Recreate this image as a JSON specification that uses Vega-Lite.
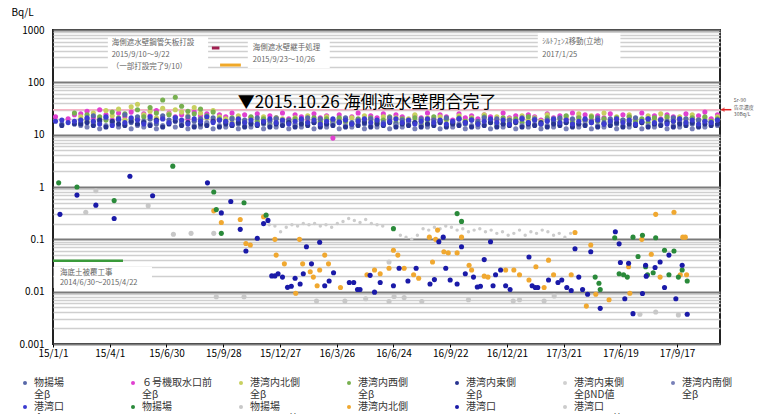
{
"$schema":"https://vega.github.io/schema/vega-lite/v6.json",
"width":667,"height":314,
"autosize":{"type":"none"},
"padding":{"left":53,"top":30,"right":40,"bottom":70},
"background":"white",
"config":{"font":"Noto Sans CJK JP","view":{"stroke":"#222","strokeWidth":2}},
"title":{"text":"港湾内の海水の濃度推移（全β、Sr-90）","fontSize":15,"fontWeight":"normal","color":"#333","offset":7,"anchor":"middle","dx":10},
"encoding":{
 "x":{"field":"d","type":"temporal","scale":{"type":"utc","domain":[{"year":2015,"month":1,"date":1,"utc":true},{"year":2017,"month":11,"date":24,"utc":true}]},
  "axis":{"values":[{"year":2015,"month":1,"date":1,"utc":true},{"year":2015,"month":4,"date":1,"utc":true},{"year":2015,"month":6,"date":30,"utc":true},{"year":2015,"month":9,"date":28,"utc":true},{"year":2015,"month":12,"date":27,"utc":true},{"year":2016,"month":3,"date":26,"utc":true},{"year":2016,"month":6,"date":24,"utc":true},{"year":2016,"month":9,"date":22,"utc":true},{"year":2016,"month":12,"date":21,"utc":true},{"year":2017,"month":3,"date":21,"utc":true},{"year":2017,"month":6,"date":19,"utc":true},{"year":2017,"month":9,"date":17,"utc":true}],
  "labelExpr":"utcFormat(datum.value, '%y/%-m/%-d')","title":null,"grid":false,"domain":false,"ticks":true,"tickColor":"#000","tickSize":3,"labelPadding":1,"labelFontSize":10,"labelColor":"#000","labelFlush":false,"labelOverlap":false}},
 "y":{"field":"v","type":"quantitative","scale":{"type":"log","domain":[0.001,1000],"nice":false},
  "axis":{"values":[0.001,0.002,0.003,0.004,0.005,0.006,0.007,0.008,0.009,0.01,0.02,0.03,0.04,0.05,0.06,0.07,0.08,0.09,0.1,0.2,0.3,0.4,0.5,0.6,0.7,0.8,0.9,1,2,3,4,5,6,7,8,9,10,20,30,40,50,60,70,80,90,100,200,300,400,500,600,700,800,900,1000],
  "format":"~g","labelExpr":"indexof([0.001,0.01,0.1,1,10,100,1000], datum.value) >= 0 ? datum.label : ''",
  "grid":true,"gridColor":{"condition":{"test":"indexof([0.001,0.01,0.1,1,10,100,1000], datum.value) >= 0","value":"#7a7a7a"},"value":"#cfcfcf"},
  "gridWidth":{"condition":{"test":"indexof([0.001,0.01,0.1,1,10,100,1000], datum.value) >= 0","value":2},"value":1.6},
  "ticks":false,"domain":false,"labelFontSize":10,"labelColor":"#000","labelPadding":9,"labelOverlap":false,"labelFlush":false,
  "title":"Bq/L","titleAngle":0,"titleX":-42,"titleY":-18,"titleAlign":"left","titleBaseline":"middle","titleFontSize":10,"titleFontWeight":"normal","titleColor":"#000"}}
},
"layer":[
 {"data":{"values":[
  {"d":"2015-03-29","d2":"2015-09-04","v":735,"v2":157},
  {"d":"2015-11-06","d2":"2016-03-15","v":644,"v2":188},
  {"d":"2017-02-08","d2":"2017-06-19","v":877,"v2":267},
  {"d":"2015-01-02","d2":"2015-06-07","v":0.0296,"v2":0.0117}]},
  "mark":{"type":"rect","fill":"white"},
  "encoding":{"x2":{"field":"d2"},"y2":{"field":"v2"}}},
 {"data":{"values":[{"d":"2015-01-01","d2":"2017-11-24","v":30}]},
  "mark":{"type":"rule","color":"#f6b3c4","strokeWidth":1.5},
  "encoding":{"x2":{"field":"d2"}}},
 {"data":{"values":[{"d":"2015-09-10","d2":"2015-09-22","v":453}]},
  "mark":{"type":"rule","color":"#a02050","strokeWidth":3},
  "encoding":{"x2":{"field":"d2"}}},
 {"data":{"values":[{"d":"2015-09-23","d2":"2015-10-26","v":214}]},
  "mark":{"type":"rule","color":"#f0a828","strokeWidth":3},
  "encoding":{"x2":{"field":"d2"}}},
 {"data":{"values":[{"d":"2015-01-01","d2":"2015-04-22","v":0.039}]},
  "mark":{"type":"rule","color":"#3a9a3a","strokeWidth":2.5},
  "encoding":{"x2":{"field":"d2"}}},
 {"data":{"values":[
  {"d":"2015-01-05","k2":22,"k8":18},
  {"d":"2015-01-15","k1":16,"k8":19,"k5":15},
  {"d":"2015-01-25","k2":20,"k8":17},
  {"d":"2015-02-04","k2":24,"k4":26,"k8":18,"k5":16},
  {"d":"2015-02-14","k2":25,"k3":22,"k4":19,"k1":17,"k7":15,"k5":16,"k8":19},
  {"d":"2015-02-24","k2":28,"k3":18,"k4":24,"k1":20,"k7":14,"k5":17,"k8":21},
  {"d":"2015-03-06","k2":21,"k3":26,"k4":17,"k1":23,"k7":16,"k5":15,"k8":18},
  {"d":"2015-03-16","k2":30,"k3":20,"k4":22,"k1":18,"k7":13,"k5":19,"k8":16},
  {"d":"2015-03-26","k2":24,"k3":29,"k4":19,"k1":21,"k7":15,"k5":14,"k8":22},
  {"d":"2015-04-05","k2":19,"k3":23,"k4":27,"k1":16,"k7":17,"k5":18,"k8":15},
  {"d":"2015-04-15","k2":26,"k3":31,"k4":21,"k1":19,"k7":14,"k5":16,"k8":20},
  {"d":"2015-04-25","k2":22,"k3":19,"k4":25,"k1":24,"k7":16,"k5":15,"k8":17},
  {"d":"2015-05-05","k2":27,"k3":34,"k4":20,"k1":17,"k7":13,"k5":18,"k8":21},
  {"d":"2015-05-15","k2":20,"k3":38,"k4":30,"k1":22,"k7":15,"k5":16,"k8":19},
  {"d":"2015-05-25","k2":25,"k3":24,"k4":22,"k1":18,"k7":14,"k5":17,"k8":16},
  {"d":"2015-06-04","k2":23,"k3":28,"k4":33,"k1":20,"k7":16,"k5":15,"k8":22},
  {"d":"2015-06-14","k2":29,"k3":21,"k4":26,"k1":16,"k7":13,"k5":19,"k8":18},
  {"d":"2015-06-24","k2":21,"k3":32,"k4":46,"k1":23,"k7":15,"k5":14,"k8":20},
  {"d":"2015-07-04","k2":26,"k3":25,"k4":24,"k1":19,"k7":17,"k5":16,"k8":17},
  {"d":"2015-07-14","k2":22,"k3":30,"k4":52,"k1":21,"k7":14,"k5":18,"k8":21},
  {"d":"2015-07-24","k2":24,"k3":27,"k4":35,"k1":17,"k7":16,"k5":15,"k8":19},
  {"d":"2015-08-03","k2":20,"k3":23,"k4":28,"k1":22,"k7":13,"k5":17,"k8":16},
  {"d":"2015-08-13","k2":27,"k3":33,"k4":25,"k1":18,"k7":15,"k5":14,"k8":20},
  {"d":"2015-08-23","k2":23,"k3":26,"k4":31,"k1":20,"k7":14,"k5":16,"k8":18},
  {"d":"2015-09-02","k2":25,"k3":21,"k4":23,"k1":16,"k7":17,"k5":15,"k8":22},
  {"d":"2015-09-12","k2":19,"k3":29,"k4":27,"k1":21,"k7":13,"k5":18,"k8":17},
  {"d":"2015-09-22","k2":24,"k3":22,"k4":20,"k1":19,"k7":15,"k5":14,"k8":19},
  {"d":"2015-10-02","k2":22,"k3":20,"k4":18,"k1":17,"k7":14,"k5":16,"k8":18},
  {"d":"2015-10-12","k2":26,"k3":17,"k4":21,"k1":20,"k7":15,"k5":15,"k8":16},
  {"d":"2015-10-22","k2":20,"k3":23,"k4":19,"k1":16,"k7":13,"k5":17,"k8":20},
  {"d":"2015-11-01","k2":24,"k3":18,"k4":17,"k1":19,"k7":15,"k5":14,"k8":17},
  {"d":"2015-11-11","k2":21,"k3":21,"k4":22,"k1":17,"k7":14,"k5":16,"k8":19},
  {"d":"2015-11-21","k2":25,"k3":16,"k4":18,"k1":21,"k7":16,"k5":15,"k8":16},
  {"d":"2015-12-01","k2":19,"k3":22,"k4":20,"k1":16,"k7":13,"k5":17,"k8":18},
  {"d":"2015-12-11","k2":23,"k3":19,"k4":16,"k1":18,"k7":15,"k5":14,"k8":20},
  {"d":"2015-12-21","k2":21,"k3":17,"k4":21,"k1":20,"k7":14,"k5":16,"k8":17},
  {"d":"2015-12-31","k2":26,"k3":20,"k4":18,"k1":17,"k7":16,"k5":15,"k8":19},
  {"d":"2016-01-10","k2":20,"k3":18,"k4":17,"k1":19,"k7":13,"k5":17,"k8":16},
  {"d":"2016-01-20","k2":24,"k3":21,"k4":20,"k1":16,"k7":15,"k5":14,"k8":18},
  {"d":"2016-01-30","k2":22,"k3":16,"k4":19,"k1":18,"k7":14,"k5":16,"k8":20},
  {"d":"2016-02-09","k2":19,"k3":23,"k4":17,"k1":21,"k7":16,"k5":15,"k8":17},
  {"d":"2016-02-19","k2":25,"k3":19,"k4":21,"k1":17,"k7":13,"k5":17,"k8":19},
  {"d":"2016-02-29","k2":21,"k3":17,"k4":18,"k1":20,"k7":15,"k5":14,"k8":16},
  {"d":"2016-03-10","k2":23,"k3":22,"k4":20,"k1":16,"k7":14,"k5":16,"k8":18},
  {"d":"2016-03-20","k2":8.6,"k3":18,"k4":17,"k1":19,"k7":16,"k5":15,"k8":20},
  {"d":"2016-03-30","k2":24,"k3":20,"k4":21,"k1":18,"k7":13,"k5":17,"k8":17},
  {"d":"2016-04-09","k2":20,"k3":17,"k4":18,"k1":21,"k7":15,"k5":14,"k8":19},
  {"d":"2016-04-19","k2":22,"k3":21,"k4":16,"k1":17,"k7":14,"k5":16,"k8":16},
  {"d":"2016-04-29","k2":26,"k3":18,"k4":20,"k1":19,"k7":16,"k5":15,"k8":18},
  {"d":"2016-05-09","k2":19,"k3":23,"k4":18,"k1":16,"k7":13,"k5":17,"k8":20},
  {"d":"2016-05-19","k2":23,"k3":19,"k4":21,"k1":20,"k7":15,"k5":14,"k8":17},
  {"d":"2016-05-29","k2":21,"k3":16,"k4":17,"k1":18,"k7":14,"k5":16,"k8":19},
  {"d":"2016-06-08","k2":25,"k3":22,"k4":19,"k1":17,"k7":16,"k5":15,"k8":16},
  {"d":"2016-06-18","k2":20,"k3":18,"k4":22,"k1":21,"k7":13,"k5":17,"k8":18},
  {"d":"2016-06-28","k2":24,"k3":21,"k4":17,"k1":16,"k7":15,"k5":14,"k8":20},
  {"d":"2016-07-08","k2":22,"k3":17,"k4":20,"k1":19,"k7":14,"k5":16,"k8":17},
  {"d":"2016-07-18","k2":19,"k3":20,"k4":18,"k1":18,"k7":16,"k5":15,"k8":19},
  {"d":"2016-07-28","k2":23,"k3":24,"k4":21,"k1":17,"k7":13,"k5":17,"k8":16},
  {"d":"2016-08-07","k2":21,"k3":18,"k4":16,"k1":20,"k7":15,"k5":14,"k8":18},
  {"d":"2016-08-17","k2":26,"k3":21,"k4":19,"k1":16,"k7":14,"k5":16,"k8":20},
  {"d":"2016-08-27","k2":20,"k3":17,"k4":22,"k1":19,"k7":16,"k5":15,"k8":17},
  {"d":"2016-09-06","k2":24,"k3":22,"k4":18,"k1":18,"k7":13,"k5":17,"k8":19},
  {"d":"2016-09-16","k2":22,"k3":19,"k4":20,"k1":21,"k7":15,"k5":14,"k8":16},
  {"d":"2016-09-26","k2":19,"k3":16,"k4":17,"k1":17,"k7":14,"k5":16,"k8":18},
  {"d":"2016-10-06","k2":25,"k3":23,"k4":21,"k1":20,"k7":16,"k5":15,"k8":20},
  {"d":"2016-10-16","k2":21,"k3":18,"k4":18,"k1":16,"k7":13,"k5":17,"k8":17},
  {"d":"2016-10-26","k2":23,"k3":21,"k4":20,"k1":19,"k7":15,"k5":14,"k8":19},
  {"d":"2016-11-05","k2":20,"k3":17,"k4":17,"k1":18,"k7":14,"k5":16,"k8":16},
  {"d":"2016-11-15","k2":24,"k3":24,"k4":22,"k1":21,"k7":16,"k5":15,"k8":18},
  {"d":"2016-11-25","k2":22,"k3":19,"k4":19,"k1":17,"k7":13,"k5":17,"k8":20},
  {"d":"2016-12-05","k2":19,"k3":22,"k4":16,"k1":20,"k7":15,"k5":14,"k8":17},
  {"d":"2016-12-15","k2":26,"k3":18,"k4":21,"k1":16,"k7":14,"k5":16,"k8":19},
  {"d":"2016-12-25","k2":21,"k3":20,"k4":18,"k1":19,"k7":16,"k5":15,"k8":16},
  {"d":"2017-01-04","k2":23,"k3":17,"k4":20,"k1":18,"k7":13,"k5":17,"k8":18},
  {"d":"2017-01-14","k2":20,"k3":23,"k4":17,"k1":21,"k7":15,"k5":14,"k8":20},
  {"d":"2017-01-24","k2":24,"k3":19,"k4":22,"k1":17,"k7":14,"k5":16,"k8":17},
  {"d":"2017-02-03","k2":22,"k3":21,"k4":19,"k1":20,"k7":16,"k5":15,"k8":19},
  {"d":"2017-02-13","k2":19,"k3":18,"k4":16,"k1":16,"k7":13,"k5":17,"k8":16},
  {"d":"2017-02-23","k2":25,"k3":24,"k4":21,"k1":19,"k7":15,"k5":14,"k8":18},
  {"d":"2017-03-05","k2":21,"k3":20,"k4":18,"k1":18,"k7":14,"k5":16,"k8":20},
  {"d":"2017-03-15","k2":23,"k3":17,"k4":20,"k1":21,"k7":16,"k5":15,"k8":17},
  {"d":"2017-03-25","k2":20,"k3":22,"k4":23,"k1":17,"k7":13,"k5":17,"k8":19},
  {"d":"2017-04-04","k2":26,"k3":19,"k4":17,"k1":20,"k7":15,"k5":14,"k8":16},
  {"d":"2017-04-14","k2":22,"k3":25,"k4":21,"k1":16,"k7":14,"k5":16,"k8":18},
  {"d":"2017-04-24","k2":24,"k3":18,"k4":19,"k1":19,"k7":16,"k5":15,"k8":20},
  {"d":"2017-05-04","k2":19,"k3":23,"k4":22,"k1":18,"k7":13,"k5":17,"k8":17},
  {"d":"2017-05-14","k2":23,"k3":20,"k4":18,"k1":21,"k7":15,"k5":14,"k8":19},
  {"d":"2017-05-24","k2":21,"k3":26,"k4":20,"k1":17,"k7":14,"k5":16,"k8":16},
  {"d":"2017-06-03","k2":25,"k3":19,"k4":17,"k1":20,"k7":16,"k5":15,"k8":18},
  {"d":"2017-06-13","k2":20,"k3":22,"k4":21,"k1":16,"k7":13,"k5":17,"k8":20},
  {"d":"2017-06-23","k2":24,"k3":18,"k4":19,"k1":19,"k7":15,"k5":14,"k8":17},
  {"d":"2017-07-03","k2":22,"k3":24,"k4":22,"k1":18,"k7":14,"k5":16,"k8":19},
  {"d":"2017-07-13","k2":19,"k3":20,"k4":18,"k1":21,"k7":16,"k5":15,"k8":16},
  {"d":"2017-07-23","k2":26,"k3":17,"k4":20,"k1":17,"k7":13,"k5":17,"k8":18},
  {"d":"2017-08-02","k2":21,"k3":23,"k4":17,"k1":20,"k7":15,"k5":14,"k8":20},
  {"d":"2017-08-12","k2":23,"k3":19,"k4":21,"k1":16,"k7":14,"k5":16,"k8":17},
  {"d":"2017-08-22","k2":20,"k3":25,"k4":19,"k1":19,"k7":16,"k5":15,"k8":19},
  {"d":"2017-09-01","k2":24,"k3":21,"k4":22,"k1":18,"k7":13,"k5":17,"k8":16},
  {"d":"2017-09-11","k2":22,"k3":18,"k4":18,"k1":21,"k7":15,"k5":14,"k8":18},
  {"d":"2017-09-21","k2":19,"k3":22,"k4":20,"k1":17,"k7":14,"k5":16,"k8":20},
  {"d":"2017-10-01","k2":25,"k3":20,"k4":17,"k1":20,"k7":16,"k5":15,"k8":17},
  {"d":"2017-10-11","k2":21,"k3":24,"k4":21,"k1":16,"k7":13,"k5":17,"k8":19},
  {"d":"2017-10-21","k2":23,"k3":19,"k4":19,"k1":19,"k7":15,"k5":14,"k8":16},
  {"d":"2017-10-31","k2":27,"k3":21,"k4":22,"k1":18,"k7":14,"k5":16,"k8":18},
  {"d":"2017-11-10","k2":20,"k3":18,"k4":18,"k1":17,"k7":16,"k5":15,"k8":17},
  {"d":"2017-11-20","k2":24,"k3":22,"k4":20,"k1":19,"k7":15,"k5":16,"k8":19}]},
  "transform":[{"fold":["k2","k3","k4","k1","k7","k5","k8"],"as":["s","v"]},{"filter":"isValid(datum.v)"}],
  "mark":{"type":"circle","size":26,"opacity":1},
  "encoding":{"color":{"field":"s","type":"nominal",
   "scale":{"domain":["k1","k2","k3","k4","k5","k6","k7","k8","k9","k10","k11","k12","k13"],"range":["#5868a8","#e040d0","#c8d060","#78b050","#283490","#d0d0d0","#7880b8","#3c3cd0","#2a8a3a","#c8c8c8","#f0a830","#1a1aa8","#cccccc"]},
   "legend":{"orient":"none","legendX":-33,"legendY":348,"direction":"horizontal","columns":7,"title":null,"gridAlign":"all","columnPadding":24,"rowPadding":2,"padding":0,"symbolType":"circle","symbolSize":16,"labelFontSize":10,"labelColor":"#333","labelLimit":200,"labelBaseline":"middle",
    "labelExpr":"datum.value=='k1'?['物揚場','全β']:datum.value=='k2'?['６号機取水口前','全β']:datum.value=='k3'?['港湾内北側','全β']:datum.value=='k4'?['港湾内西側','全β']:datum.value=='k5'?['港湾内東側','全β']:datum.value=='k6'?['港湾内東側','全βND値']:datum.value=='k7'?['港湾内南側','全β']:datum.value=='k8'?['港湾口','全β']:datum.value=='k9'?['物揚場','Sr-90']:datum.value=='k10'?['物揚場','Sr-90ND値']:datum.value=='k11'?['港湾内北側','Sr-90']:datum.value=='k12'?['港湾口','Sr-90']:['港湾口','Sr-90ND値']",
    "encode":{"labels":{"update":{"lineHeight":{"value":13}}}}}}}},
 {"data":{"values":[
  {"d":"2015-12-10","v":0.19},{"d":"2015-12-19","v":0.18},{"d":"2015-12-28","v":0.14},{"d":"2016-01-06","v":0.17},{"d":"2016-01-15","v":0.19},{"d":"2016-01-24","v":0.18},{"d":"2016-02-02","v":0.2},{"d":"2016-02-11","v":0.19},{"d":"2016-02-20","v":0.2},{"d":"2016-02-29","v":0.18},{"d":"2016-03-09","v":0.19},{"d":"2016-03-18","v":0.17},{"d":"2016-03-27","v":0.2},{"d":"2016-04-05","v":0.22},{"d":"2016-04-14","v":0.25},{"d":"2016-04-23","v":0.23},{"d":"2016-05-02","v":0.21},{"d":"2016-05-11","v":0.24},{"d":"2016-05-20","v":0.2},{"d":"2016-05-29","v":0.19},{"d":"2016-06-07","v":0.18},
  {"d":"2016-07-05","v":0.12},{"d":"2016-07-14","v":0.11},{"d":"2016-07-23","v":0.1},{"d":"2016-08-01","v":0.12},{"d":"2016-08-10","v":0.16},{"d":"2016-08-19","v":0.15},{"d":"2016-08-28","v":0.17},{"d":"2016-09-06","v":0.16},{"d":"2016-09-15","v":0.18},{"d":"2016-09-24","v":0.17},{"d":"2016-10-03","v":0.15},{"d":"2016-10-12","v":0.16},{"d":"2016-10-21","v":0.14},{"d":"2016-10-30","v":0.15},{"d":"2016-11-08","v":0.16},{"d":"2016-11-17","v":0.14},{"d":"2016-11-26","v":0.15},{"d":"2016-12-05","v":0.13},{"d":"2016-12-14","v":0.14},{"d":"2016-12-23","v":0.12},{"d":"2017-01-01","v":0.13},{"d":"2017-01-10","v":0.15},{"d":"2017-01-19","v":0.12},{"d":"2017-01-28","v":0.14},{"d":"2017-02-06","v":0.13},{"d":"2017-02-15","v":0.15},{"d":"2017-02-24","v":0.14},{"d":"2017-03-05","v":0.12},{"d":"2017-03-14","v":0.13},{"d":"2017-03-23","v":0.11},{"d":"2017-04-01","v":0.13}]},
  "mark":{"type":"circle","size":12,"opacity":1},
  "encoding":{"color":{"datum":"k13","type":"nominal",
   "scale":{"domain":["k1","k2","k3","k4","k5","k6","k7","k8","k9","k10","k11","k12","k13"],"range":["#5868a8","#e040d0","#c8d060","#78b050","#283490","#d0d0d0","#7880b8","#3c3cd0","#2a8a3a","#c8c8c8","#f0a830","#1a1aa8","#cccccc"]}}}},
 {"data":{"values":[
  {"d":"2015-02-22","v":0.33,"s":"k10"},{"d":"2015-03-10","v":0.85,"s":"k10"},{"d":"2015-06-01","v":0.44,"s":"k10"},{"d":"2015-07-11","v":0.125,"s":"k10"},{"d":"2015-08-08","v":0.13,"s":"k10"},{"d":"2015-09-13","v":0.13,"s":"k10"},{"d":"2015-09-17","v":0.008,"s":"k10"},{"d":"2015-10-31","v":0.008,"s":"k10"},{"d":"2016-02-23","v":0.0066,"s":"k10"},{"d":"2016-04-08","v":0.0066,"s":"k10"},{"d":"2016-05-11","v":0.0073,"s":"k10"},{"d":"2016-06-17","v":0.0065,"s":"k10"},{"d":"2016-06-17","v":0.037,"s":"k10"},{"d":"2016-06-25","v":0.0081,"s":"k10"},{"d":"2016-07-11","v":0.0077,"s":"k10"},{"d":"2016-08-08","v":0.0065,"s":"k10"},{"d":"2016-10-21","v":0.007,"s":"k10"},{"d":"2016-12-31","v":0.0066,"s":"k10"},{"d":"2017-01-10","v":0.007,"s":"k10"},{"d":"2017-02-18","v":0.0066,"s":"k10"},{"d":"2017-03-06","v":0.0083,"s":"k10"},{"d":"2017-07-20","v":0.0037,"s":"k10"},{"d":"2017-08-14","v":0.0041,"s":"k10"},{"d":"2017-09-19","v":0.0036,"s":"k10"},
  {"d":"2015-09-13","v":0.35,"s":"k11"},{"d":"2015-09-25","v":0.21,"s":"k11"},{"d":"2015-10-25","v":0.24,"s":"k11"},{"d":"2015-11-03","v":0.083,"s":"k11"},{"d":"2015-11-10","v":0.078,"s":"k11"},{"d":"2015-12-01","v":0.27,"s":"k11"},{"d":"2015-12-19","v":0.1,"s":"k11"},{"d":"2015-12-21","v":0.05,"s":"k11"},{"d":"2016-01-03","v":0.034,"s":"k11"},{"d":"2016-01-21","v":0.0093,"s":"k11"},{"d":"2016-01-27","v":0.1,"s":"k11"},{"d":"2016-02-01","v":0.034,"s":"k11"},{"d":"2016-02-13","v":0.024,"s":"k11"},{"d":"2016-02-18","v":0.019,"s":"k11"},{"d":"2016-02-24","v":0.013,"s":"k11"},{"d":"2016-02-28","v":0.026,"s":"k11"},{"d":"2016-03-07","v":0.05,"s":"k11"},{"d":"2016-03-13","v":0.034,"s":"k11"},{"d":"2016-04-01","v":0.012,"s":"k11"},{"d":"2016-05-13","v":0.021,"s":"k11"},{"d":"2016-05-25","v":0.026,"s":"k11"},{"d":"2016-06-03","v":0.022,"s":"k11"},{"d":"2016-06-17","v":0.028,"s":"k11"},{"d":"2016-06-24","v":0.062,"s":"k11"},{"d":"2016-07-01","v":0.05,"s":"k11"},{"d":"2016-07-11","v":0.028,"s":"k11"},{"d":"2016-07-26","v":0.021,"s":"k11"},{"d":"2016-08-03","v":0.018,"s":"k11"},{"d":"2016-08-20","v":0.11,"s":"k11"},{"d":"2016-08-25","v":0.037,"s":"k11"},{"d":"2016-08-30","v":0.1,"s":"k11"},{"d":"2016-09-02","v":0.15,"s":"k11"},{"d":"2016-09-12","v":0.058,"s":"k11"},{"d":"2016-09-19","v":0.055,"s":"k11"},{"d":"2016-10-03","v":0.055,"s":"k11"},{"d":"2016-10-10","v":0.11,"s":"k11"},{"d":"2016-10-22","v":0.032,"s":"k11"},{"d":"2016-10-26","v":0.026,"s":"k11"},{"d":"2016-11-15","v":0.0198,"s":"k11"},{"d":"2016-11-21","v":0.019,"s":"k11"},{"d":"2016-12-19","v":0.026,"s":"k11"},{"d":"2017-01-01","v":0.026,"s":"k11"},{"d":"2017-01-10","v":0.021,"s":"k11"},{"d":"2017-01-25","v":0.0167,"s":"k11"},{"d":"2017-02-05","v":0.03,"s":"k11"},{"d":"2017-02-18","v":0.012,"s":"k11"},{"d":"2017-02-25","v":0.04,"s":"k11"},{"d":"2017-03-05","v":0.021,"s":"k11"},{"d":"2017-04-02","v":0.021,"s":"k11"},{"d":"2017-04-08","v":0.135,"s":"k11"},{"d":"2017-04-26","v":0.0053,"s":"k11"},{"d":"2017-05-03","v":0.078,"s":"k11"},{"d":"2017-05-11","v":0.0089,"s":"k11"},{"d":"2017-06-01","v":0.007,"s":"k11"},{"d":"2017-07-02","v":0.03,"s":"k11"},{"d":"2017-07-04","v":0.0093,"s":"k11"},{"d":"2017-07-23","v":0.1,"s":"k11"},{"d":"2017-08-07","v":0.052,"s":"k11"},{"d":"2017-08-14","v":0.3,"s":"k11"},{"d":"2017-08-21","v":0.019,"s":"k11"},{"d":"2017-09-12","v":0.33,"s":"k11"},{"d":"2017-09-22","v":0.021,"s":"k11"},{"d":"2017-09-26","v":0.11,"s":"k11"},{"d":"2017-09-30","v":0.11,"s":"k11"},{"d":"2017-10-02","v":0.021,"s":"k11"},
  {"d":"2015-01-10","v":1.2,"s":"k9"},{"d":"2015-02-08","v":1.0,"s":"k9"},{"d":"2015-04-08","v":0.55,"s":"k9"},{"d":"2015-07-10","v":2.5,"s":"k9"},{"d":"2015-09-13","v":0.8,"s":"k9"},{"d":"2015-09-17","v":0.37,"s":"k9"},{"d":"2015-09-25","v":0.13,"s":"k9"},{"d":"2015-10-31","v":0.5,"s":"k9"},{"d":"2015-12-05","v":0.29,"s":"k9"},{"d":"2016-06-24","v":0.16,"s":"k9"},{"d":"2016-10-03","v":0.31,"s":"k9"},{"d":"2016-10-10","v":0.22,"s":"k9"},{"d":"2017-05-10","v":0.019,"s":"k9"},{"d":"2017-05-16","v":0.0145,"s":"k9"},{"d":"2017-05-18","v":0.011,"s":"k9"},{"d":"2017-06-10","v":0.107,"s":"k9"},{"d":"2017-06-17","v":0.022,"s":"k9"},{"d":"2017-06-24","v":0.021,"s":"k9"},{"d":"2017-06-30","v":0.019,"s":"k9"},{"d":"2017-07-09","v":0.11,"s":"k9"},{"d":"2017-07-24","v":0.12,"s":"k9"},{"d":"2017-08-14","v":0.107,"s":"k9"},{"d":"2017-07-17","v":0.047,"s":"k9"},{"d":"2017-08-28","v":0.062,"s":"k9"},{"d":"2017-09-12","v":0.06,"s":"k9"},{"d":"2017-07-29","v":0.03,"s":"k9"},{"d":"2017-08-01","v":0.021,"s":"k9"},{"d":"2017-08-10","v":0.023,"s":"k9"},{"d":"2017-09-04","v":0.021,"s":"k9"},{"d":"2017-09-19","v":0.019,"s":"k9"},{"d":"2017-09-25","v":0.026,"s":"k9"},{"d":"2017-10-03","v":0.016,"s":"k9"},
  {"d":"2015-01-12","v":0.3,"s":"k12"},{"d":"2015-02-08","v":0.7,"s":"k12"},{"d":"2015-03-10","v":0.45,"s":"k12"},{"d":"2015-04-08","v":0.25,"s":"k12"},{"d":"2015-05-03","v":1.6,"s":"k12"},{"d":"2015-06-08","v":0.68,"s":"k12"},{"d":"2015-09-03","v":1.2,"s":"k12"},{"d":"2015-09-25","v":0.32,"s":"k12"},{"d":"2015-10-10","v":0.53,"s":"k12"},{"d":"2015-10-25","v":0.155,"s":"k12"},{"d":"2015-11-03","v":0.06,"s":"k12"},{"d":"2015-11-21","v":0.105,"s":"k12"},{"d":"2015-12-01","v":0.2,"s":"k12"},{"d":"2015-12-08","v":0.23,"s":"k12"},{"d":"2015-12-14","v":0.02,"s":"k12"},{"d":"2015-12-19","v":0.02,"s":"k12"},{"d":"2015-12-24","v":0.022,"s":"k12"},{"d":"2015-12-31","v":0.019,"s":"k12"},{"d":"2016-01-08","v":0.0121,"s":"k12"},{"d":"2016-01-14","v":0.0127,"s":"k12"},{"d":"2016-01-20","v":0.018,"s":"k12"},{"d":"2016-01-28","v":0.014,"s":"k12"},{"d":"2016-02-02","v":0.022,"s":"k12"},{"d":"2016-02-07","v":0.072,"s":"k12"},{"d":"2016-02-15","v":0.034,"s":"k12"},{"d":"2016-02-28","v":0.088,"s":"k12"},{"d":"2016-03-07","v":0.013,"s":"k12"},{"d":"2016-03-14","v":0.016,"s":"k12"},{"d":"2016-03-21","v":0.023,"s":"k12"},{"d":"2016-04-15","v":0.015,"s":"k12"},{"d":"2016-04-22","v":0.015,"s":"k12"},{"d":"2016-04-28","v":0.011,"s":"k12"},{"d":"2016-05-02","v":0.011,"s":"k12"},{"d":"2016-05-18","v":0.0205,"s":"k12"},{"d":"2016-05-25","v":0.0098,"s":"k12"},{"d":"2016-06-03","v":0.015,"s":"k12"},{"d":"2016-06-24","v":0.013,"s":"k12"},{"d":"2016-07-03","v":0.028,"s":"k12"},{"d":"2016-07-17","v":0.016,"s":"k12"},{"d":"2016-07-30","v":0.028,"s":"k12"},{"d":"2016-08-21","v":0.014,"s":"k12"},{"d":"2016-08-28","v":0.017,"s":"k12"},{"d":"2016-09-04","v":0.09,"s":"k12"},{"d":"2016-09-11","v":0.11,"s":"k12"},{"d":"2016-09-15","v":0.028,"s":"k12"},{"d":"2016-09-22","v":0.0167,"s":"k12"},{"d":"2016-10-03","v":0.014,"s":"k12"},{"d":"2016-10-10","v":0.072,"s":"k12"},{"d":"2016-10-16","v":0.022,"s":"k12"},{"d":"2016-10-29","v":0.019,"s":"k12"},{"d":"2016-11-04","v":0.0123,"s":"k12"},{"d":"2016-11-09","v":0.0127,"s":"k12"},{"d":"2016-11-15","v":0.041,"s":"k12"},{"d":"2016-11-25","v":0.09,"s":"k12"},{"d":"2016-11-29","v":0.013,"s":"k12"},{"d":"2016-12-03","v":0.021,"s":"k12"},{"d":"2016-12-11","v":0.026,"s":"k12"},{"d":"2016-12-19","v":0.013,"s":"k12"},{"d":"2016-12-26","v":0.011,"s":"k12"},{"d":"2017-01-25","v":0.046,"s":"k12"},{"d":"2017-01-30","v":0.013,"s":"k12"},{"d":"2017-02-04","v":0.012,"s":"k12"},{"d":"2017-02-08","v":0.012,"s":"k12"},{"d":"2017-02-25","v":0.0167,"s":"k12"},{"d":"2017-03-12","v":0.015,"s":"k12"},{"d":"2017-03-18","v":0.0167,"s":"k12"},{"d":"2017-03-26","v":0.012,"s":"k12"},{"d":"2017-04-02","v":0.0105,"s":"k12"},{"d":"2017-04-08","v":0.066,"s":"k12"},{"d":"2017-04-14","v":0.019,"s":"k12"},{"d":"2017-04-20","v":0.011,"s":"k12"},{"d":"2017-04-28","v":0.0089,"s":"k12"},{"d":"2017-05-03","v":0.058,"s":"k12"},{"d":"2017-05-18","v":0.0048,"s":"k12"},{"d":"2017-06-11","v":0.14,"s":"k12"},{"d":"2017-06-17","v":0.082,"s":"k12"},{"d":"2017-06-19","v":0.036,"s":"k12"},{"d":"2017-07-02","v":0.035,"s":"k12"},{"d":"2017-06-26","v":0.0073,"s":"k12"},{"d":"2017-07-09","v":0.0038,"s":"k12"},{"d":"2017-07-24","v":0.0092,"s":"k12"},{"d":"2017-07-29","v":0.032,"s":"k12"},{"d":"2017-07-30","v":0.0198,"s":"k12"},{"d":"2017-08-13","v":0.029,"s":"k12"},{"d":"2017-08-21","v":0.037,"s":"k12"},{"d":"2017-08-28","v":0.012,"s":"k12"},{"d":"2017-09-04","v":0.05,"s":"k12"},{"d":"2017-09-15","v":0.0073,"s":"k12"},{"d":"2017-09-25","v":0.032,"s":"k12"},{"d":"2017-10-03","v":0.0037,"s":"k12"}]},
  "mark":{"type":"circle","size":26,"opacity":1},
  "encoding":{"color":{"field":"s","type":"nominal",
   "scale":{"domain":["k1","k2","k3","k4","k5","k6","k7","k8","k9","k10","k11","k12","k13"],"range":["#5868a8","#e040d0","#c8d060","#78b050","#283490","#d0d0d0","#7880b8","#3c3cd0","#2a8a3a","#c8c8c8","#f0a830","#1a1aa8","#cccccc"]}}}},
 {"data":{"values":[
  {"d":"2015-04-04","v":565,"t":"海側遮水壁鋼管矢板打設"},
  {"d":"2015-04-04","v":333,"t":"2015/9/10～9/22"},
  {"d":"2015-04-04","v":196,"t":"（一部打設完了9/10）"},
  {"d":"2015-11-14","v":453,"t":"海側遮水壁継手処理"},
  {"d":"2015-11-14","v":267,"t":"2015/9/23～10/26"},
  {"d":"2017-02-15","v":590,"t":"ｼﾙﾄﾌｪﾝｽ移動(立地)"},
  {"d":"2017-02-15","v":333,"t":"2017/1/25"},
  {"d":"2015-01-12","v":0.0227,"t":"海底土被覆工事"},
  {"d":"2015-01-12","v":0.0146,"t":"2014/6/30～2015/4/22"}]},
  "mark":{"type":"text","align":"left","baseline":"middle","fontSize":7.5,"color":"#666"},
  "encoding":{"text":{"field":"t"}}},
 {"data":{"values":[{"d":"2015-10-21","v":40,"t":"▼2015.10.26 海側遮水壁閉合完了"}]},
  "mark":{"type":"text","align":"left","baseline":"middle","fontSize":17,"color":"#000"},
  "encoding":{"text":{"field":"t"}}},
 {"data":{"values":[{"d":"2017-11-26","d2":"2017-12-12","v":30}]},
  "mark":{"type":"rule","color":"#e02020","strokeWidth":1.5,"clip":false},
  "encoding":{"x2":{"field":"d2"}}},
 {"data":{"values":[{"d":"2017-11-28","v":30}]},
  "mark":{"type":"point","shape":"triangle-left","filled":true,"size":22,"color":"#e02020","clip":false}},
 {"data":{"values":[
  {"d":"2017-12-16","v":46,"t":"Sr-90"},
  {"d":"2017-12-16","v":34,"t":"告示濃度"},
  {"d":"2017-12-16","v":25,"t":"30Bq/L"}]},
  "mark":{"type":"text","align":"left","baseline":"middle","fontSize":5,"color":"#555","clip":false},
  "encoding":{"text":{"field":"t"}}}
]
}
